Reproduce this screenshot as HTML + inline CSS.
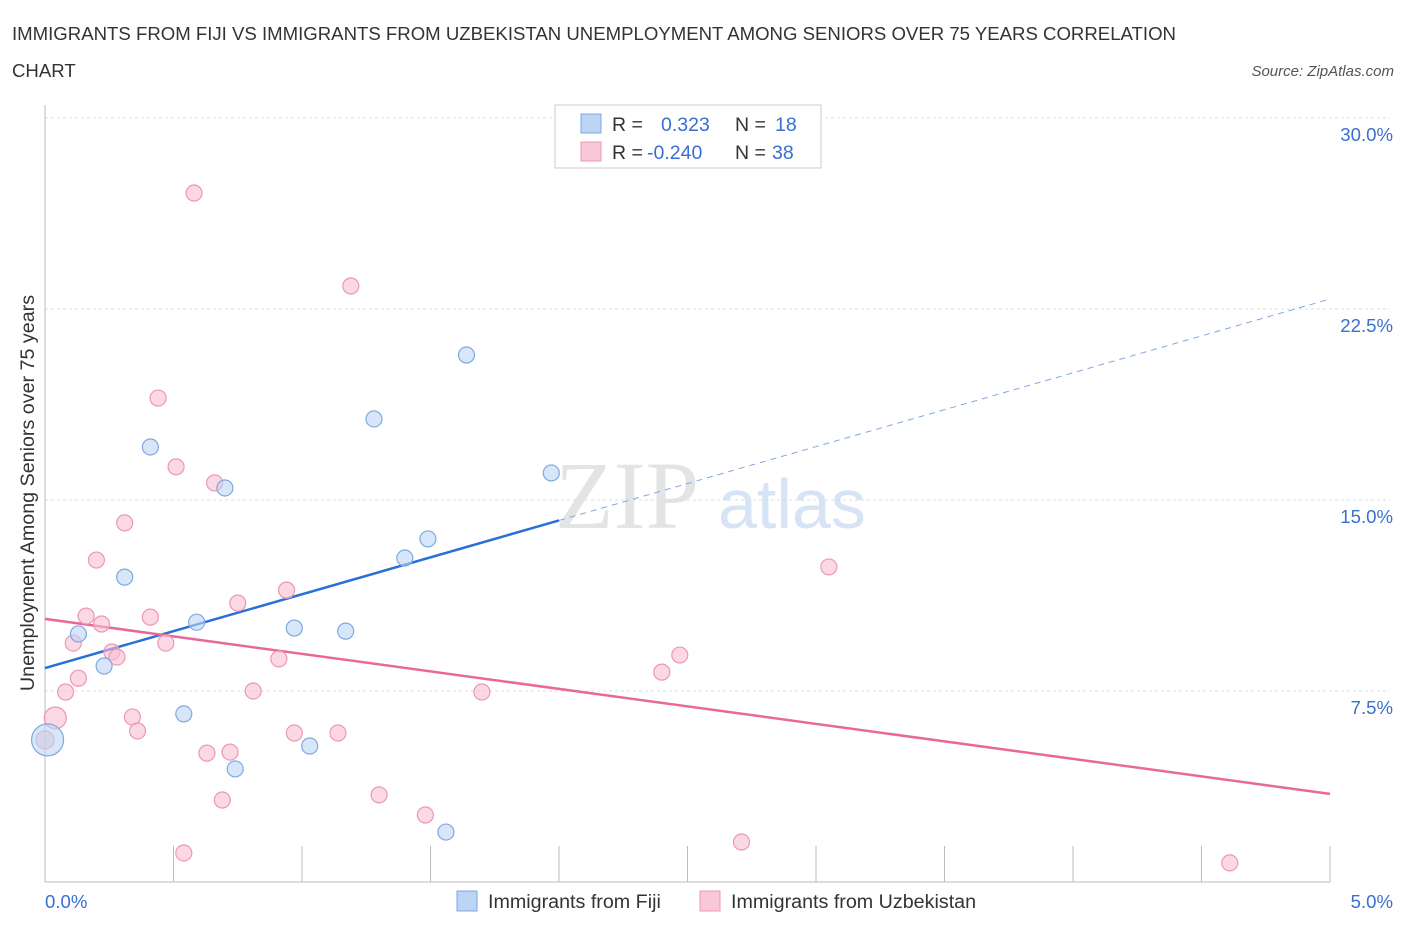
<!DOCTYPE html>
<html><head><meta charset="utf-8"><style>
body{margin:0;background:#fff;font-family:"Liberation Sans",sans-serif;}
</style></head><body>
<svg width="1406" height="930" xmlns="http://www.w3.org/2000/svg">
<text x="12" y="40" font-size="18.6" fill="#333">IMMIGRANTS FROM FIJI VS IMMIGRANTS FROM UZBEKISTAN UNEMPLOYMENT AMONG SENIORS OVER 75 YEARS CORRELATION</text>
<text x="12" y="77" font-size="18.6" fill="#333">CHART</text>
<text x="1394" y="76" font-size="15" fill="#555" font-style="italic" text-anchor="end">Source: ZipAtlas.com</text>
<text x="555" y="528" font-size="96" fill="#e4e4e4" font-family="Liberation Serif">ZIP</text>
<text x="718" y="528" font-size="70" fill="#d6e4f5">atlas</text>
<g id="grid"></g><g id="axes"></g><g id="lines"></g><g id="pts"></g>
<text x="34" y="493" font-size="19.7" fill="#333" text-anchor="middle" transform="rotate(-90 34 493)">Unemployment Among Seniors over 75 years</text>
<rect x="555" y="105" width="266" height="63" fill="#fff" stroke="#ccc"/>
<rect x="581" y="114" width="20" height="19" fill="#bcd5f5" stroke="#7fa8e0"/>
<rect x="581" y="142" width="20" height="19" fill="#f9c8d8" stroke="#eb98b4"/>
<text x="612" y="131" font-size="19.5" fill="#333">R = <tspan x="661" fill="#3a6fd0">0.323</tspan><tspan x="735" fill="#333">N = </tspan><tspan x="775" fill="#3a6fd0">18</tspan></text>
<text x="612" y="159" font-size="19.5" fill="#333">R = <tspan x="647" fill="#3a6fd0">-0.240</tspan><tspan x="735" fill="#333">N = </tspan><tspan x="772" fill="#3a6fd0">38</tspan></text>
<rect x="457" y="891" width="20" height="20" fill="#bcd5f5" stroke="#7fa8e0"/>
<text x="488" y="908" font-size="19.7" fill="#333">Immigrants from Fiji</text>
<rect x="700" y="891" width="20" height="20" fill="#f9c8d8" stroke="#eb98b4"/>
<text x="731" y="908" font-size="19.7" fill="#333">Immigrants from Uzbekistan</text>
</svg>
<script>
const yTicks=[7.5,15,22.5,30];
const yTickLabels=["7.5%","15.0%","22.5%","30.0%"];
const xTickLabels=["0.0%","5.0%"];
const fijiX=[0.01,0.13,0.23,0.31,0.41,0.54,0.59,0.70,0.74,0.97,1.03,1.17,1.28,1.40,1.49,1.56,1.64,1.97];
const fijiY=[5.58,9.74,8.48,11.97,17.08,6.6,10.2,15.47,4.44,9.97,5.34,9.85,18.18,12.72,13.47,1.96,20.69,16.06];
const uzbX=[0.58,1.19,0.44,0.51,0.66,0.31,0.20,3.05,0.94,0.75,0.16,0.41,0.22,0.11,0.47,0.26,0.28,0.91,2.47,2.40,0.13,0.08,0.81,1.70,0.04,0.34,0.36,0.97,1.14,0.63,0.72,1.30,0.69,1.48,2.71,0.54,4.61,0.0];
const uzbY=[27.05,23.4,19.0,16.3,15.67,14.1,12.64,12.37,11.46,10.95,10.44,10.4,10.13,9.38,9.38,9.03,8.83,8.76,8.91,8.24,8.0,7.46,7.5,7.46,6.44,6.48,5.93,5.85,5.85,5.06,5.1,3.42,3.22,2.63,1.57,1.14,0.75,5.58];
const fijiTrend=[8.4,22.89];
const uzbTrend=[10.33,3.46];
const NS="http://www.w3.org/2000/svg";
const X=v=>45+v*257, Y=v=>882-v*25.47;
function mk(p,t,a){const e=document.createElementNS(NS,t);for(const k in a)e.setAttribute(k,a[k]);document.getElementById(p).appendChild(e);return e;}
yTicks.forEach((t,i)=>{
 const g=mk('grid','line',{x1:45,x2:1390,y1:Y(t),y2:Y(t),stroke:'#ddd','stroke-dasharray':'3,3'});
 
 
 const l=mk('axes','text',{x:1393,y:Y(t)+23,'font-size':18.6,fill:'#3a6fd0','text-anchor':'end'});
 l.textContent=yTickLabels[i];
 
 
});
const ax=mk('axes','line',{x1:45,x2:1330,y1:882,y2:882,stroke:'#bbb'});


const ay=mk('axes','line',{x1:45,x2:45,y1:105,y2:882,stroke:'#bbb'});


for(let i=0;i<=10;i++){const t=mk('axes','line',{x1:X(i*0.5),x2:X(i*0.5),y1:846,y2:882,stroke:'#bbb'});
 
 }
[[0,45,'start'],[5,1393,'end']].forEach((d,i)=>{const l=mk('axes','text',{x:d[1],y:908,'font-size':18.6,fill:'#3a6fd0','text-anchor':d[2]});l.textContent=xTickLabels[i];
 
 });
const fx=2.0, fyEnd=fijiTrend[0]+(fijiTrend[1]-fijiTrend[0])*fx/5;
let l1=mk('lines','line',{x1:X(0),y1:Y(fijiTrend[0]),x2:X(fx),y2:Y(fyEnd),stroke:'#2a6fd6','stroke-width':2.5});


let l2=mk('lines','line',{x1:X(fx),y1:Y(fyEnd),x2:X(5),y2:Y(fijiTrend[1]),stroke:'#7fa8e0','stroke-width':1,'stroke-dasharray':'6,5'});


let l3=mk('lines','line',{x1:X(0),y1:Y(uzbTrend[0]),x2:X(5),y2:Y(uzbTrend[1]),stroke:'#e8689a','stroke-width':2.5});


uzbX.forEach((x,i)=>{const r=(i==24)?11:(i==37?9:8);const c=mk('pts','circle',{cx:X(x),cy:Y(uzbY[i]),r:r,fill:'rgba(249,190,210,0.6)',stroke:'#eb98b4','stroke-width':1.2});
 
 });
fijiX.forEach((x,i)=>{const r=i==0?16:8;const c=mk('pts','circle',{cx:X(x),cy:Y(fijiY[i]),r:r,fill:'rgba(188,213,245,0.6)',stroke:'#7fa8e0','stroke-width':1.2});
 
 });
</script>
</body></html>
